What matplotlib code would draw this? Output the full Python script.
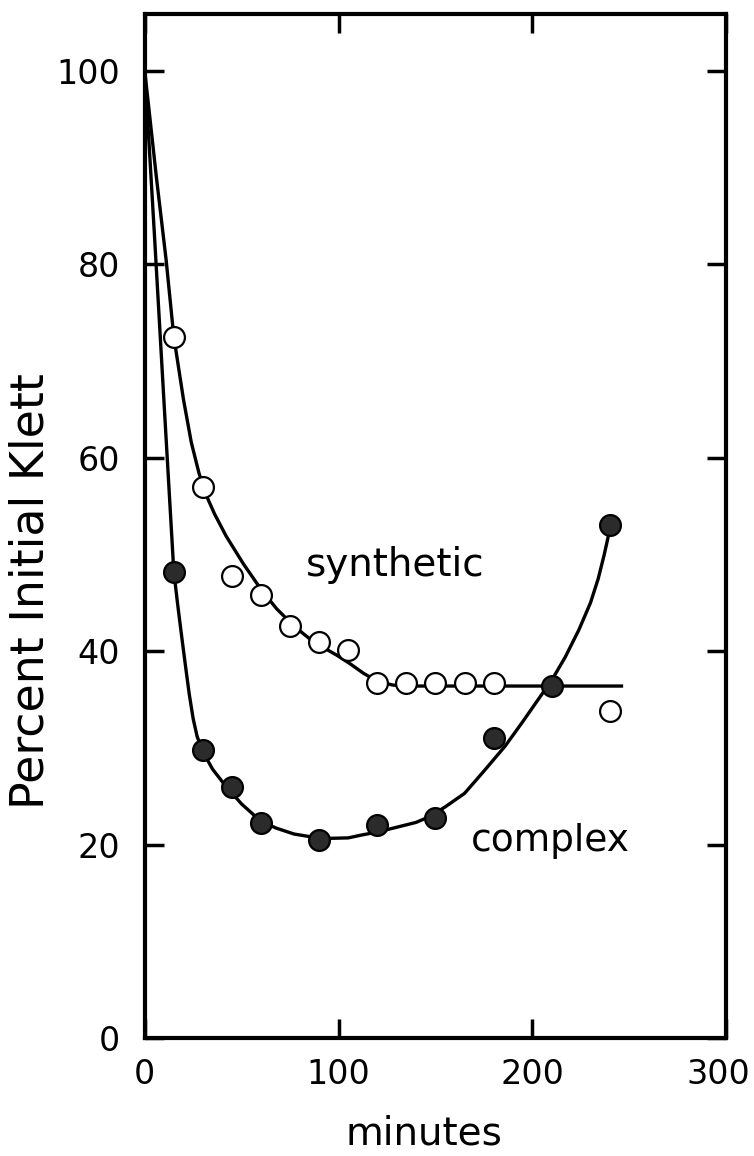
import matplotlib
matplotlib.use("Agg")
import matplotlib.pyplot as plt
import matplotlib.transforms as mtransforms

# measured points (minutes, percent of initial Klett reading)
syn_x = [15, 30, 45, 60, 75, 90, 105, 120, 135, 150, 165, 180, 240]
syn_y = [72.5, 57.0, 47.8, 45.8, 42.6, 41.0, 40.1, 36.7, 36.7, 36.7, 36.7, 36.7, 33.8]

cpx_x = [15, 30, 45, 60, 90, 120, 150, 180, 210, 240]
cpx_y = [48.2, 29.8, 26.0, 22.2, 20.5, 22.0, 22.8, 31.0, 36.4, 53.0]

# hand-drawn fitted curves
syn_curve_x = [0, 6, 11, 15, 20, 24, 28, 32, 36, 42, 51, 60, 68, 77, 85, 92, 99,
               106, 113, 120, 128, 140, 246]
syn_curve_y = [100, 89, 80.5, 72.5, 66.0, 61.6, 58.4, 56.0, 54.2, 51.9, 49.0, 46.4,
               44.4, 42.6, 41.3, 40.4, 39.6, 38.7, 37.7, 36.9, 36.5, 36.4, 36.4]

cpx_curve_x = [0, 5, 10, 15, 17, 19, 21, 23, 25, 27, 30, 35, 42, 50, 60, 68, 77, 86,
               95, 105, 112, 120, 130, 140, 147, 155, 165, 175, 186, 195, 203, 210,
               217, 224, 230, 234, 237, 240]
cpx_curve_y = [100, 83, 65.5, 48.2, 44.8, 41.6, 38.5, 35.5, 33.0, 31.2, 29.6, 27.8,
               26.0, 24.2, 22.4, 21.7, 21.1, 20.8, 20.65, 20.7, 21.0, 21.3, 21.8, 22.3,
               22.9, 23.9, 25.3, 27.6, 30.2, 32.7, 35.0, 37.0, 39.4, 42.2, 45.0, 47.5,
               49.9, 52.6]

x_ticks = [0, 100, 200, 300]
y_ticks = [0, 20, 40, 60, 80, 100]

fig = plt.figure(figsize=(7.54, 11.56), dpi=100)
ax = fig.add_axes([0.192, 0.102, 0.771, 0.886])

ax.plot(syn_curve_x, syn_curve_y, color="black", lw=2.4, zorder=2)
ax.plot(cpx_curve_x, cpx_curve_y, color="black", lw=2.4, zorder=2)
ax.plot(syn_x, syn_y, "o", ms=15, mfc="white", mec="black", mew=1.6, zorder=3)
ax.plot(cpx_x, cpx_y, "o", ms=15, mfc="#2b2b2b", mec="black", mew=1.6, zorder=3)

ax.text(129, 48.9, "synthetic", fontsize=28, ha="center", va="center")
ax.text(209.5, 20.4, "complex", fontsize=27, ha="center", va="center")

ax.set_xlim(0, 300)
ax.set_ylim(0, 105.9)
ax.set_xticks(x_ticks)
ax.set_yticks(y_ticks)
ax.tick_params(direction="in", length=14, width=2.5, top=True, right=True,
               labelsize=24, pad=14)
ax.tick_params(axis="y", pad=18)

# keep the last x label inside the picture
last = ax.get_xticklabels()[-1]
last.set_transform(last.get_transform() +
                   mtransforms.ScaledTranslation(-8 / 100, 0, fig.dpi_scale_trans))

for s in ax.spines.values():
    s.set_linewidth(3)

ax.set_xlabel("minutes", fontsize=28)
ax.xaxis.set_label_coords(0.48, -0.075)
ax.set_ylabel("Percent Initial Klett", fontsize=33)
ax.yaxis.set_label_coords(-0.157, 0.436)

fig.savefig("out.png", dpi=100)
